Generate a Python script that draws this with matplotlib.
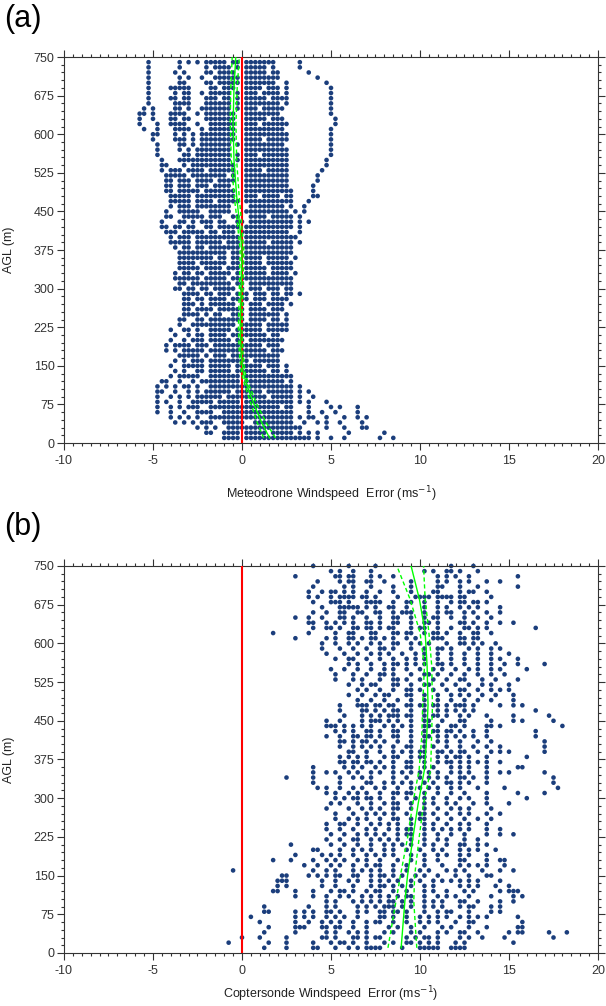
import matplotlib
matplotlib.use("Agg")
import matplotlib.pyplot as plt
from matplotlib.ticker import MultipleLocator

plt.rcParams['font.family'] = ['Liberation Sans', 'DejaVu Sans']
plt.rcParams['axes.unicode_minus'] = False

# (a) Meteodrone: one text row per 10 m level, 740 m first, 10 m last.
# Each group of 4 chars is one ms-1 starting at -6, one char per 0.25 ms-1 ('#' = a point)
md_levels = list(range(740, 0, -10))
md_rows = [
    "...# .... ..#. #.#. #### #.## .### #### .... .#.. .... .... .... .... ....",
    "...# .... ..#. .... #.## ##.# .### ##.# .... .#.. .... .... .... .... ....",
    "...# .... .#.# .... ##.# ###. .### ##.# #... ...# .... .... .... .... ....",
    "...# .... ..#. #..# ..## #### .### #### #... .... .#.. .... .... .... ....",
    "...# .... ..## .... ##.# #### .### #### ..#. .... ...# .... .... .... ....",
    "...# .... #### #... .##. ###. .### #.## #.#. .... .... #... .... .... ....",
    "...# .... .#.# #..# .### ##.# .### .### #.#. .... .... #... .... .... ....",
    "...# .... ##.# #... ###. ##.# .### ##.# ###. .... .... #... .... .... ....",
    "...# .... .### #... #### ##.# .### #### #.#. .... .... #... .... .... ....",
    "..#. #... .##. #..# #### ##.# .### .### ##.. .... .... #... .... .... ....",
    ".##. #... #### ..#. #### ###. .### #### #... .... .... #... .... .... ....",
    ".#.. #... ##.# #... #### ###. .### ##.# ##.. .... .... .#.. .... .... ....",
    ".#.. .#.. #### ..#. .### ###. .### .### ###. .... .... .#.. .... .... ....",
    "..#. .#.. .### #..# .### ###. .### #### ##.. .... .... #... .... .... ....",
    ".... ##.. .#.# .#.# #### ###. .### #### ###. .... .... #... .... .... ....",
    ".... #... .### .#.# #### ###. .### #.## ###. .... .... #... .... .... ....",
    ".... .#.. ..## .#.# #### ##.# .### #### ##.. .... .... #... .... .... ....",
    ".... .#.. ..#. #.## #### ##.. .### #### ###. .... .... #... .... .... ....",
    ".... .#.. ...# #.## #### ##.# .### .### ###. .... .... #... .... .... ....",
    ".... ..#. ..## #### #### ##.# .### #### ###. .... ...# .... .... .... ....",
    ".... ..## ...# .### #### ###. .### #### ###. .... ...# .... .... .... ....",
    ".... ..#. ###. #### .### ###. .### #.## ###. .... ..#. .... .... .... ....",
    ".... ...# #### .### #### #.#. .### #### ###. .... .#.. .... .... .... ....",
    ".... ...# #.## #.## ##.# ###. .### #### ###. .... .#.. .... .... .... ....",
    ".... ...# #.## #.## #.## ##.. .### #### ###. .... #... .... .... .... ....",
    ".... ...# #.## ###. #### ###. .### #### #### .... #... .... .... .... ....",
    ".... .... #### #.## #### ###. .### .### #.## .... ##.. .... .... .... ....",
    ".... .... #### #.## ##.# #### .### #### #### ...# .... .... .... .... ....",
    ".... .... #.## #.## #### ##.. ..## #### ##.# ..#. .... .... .... .... ....",
    ".... ...# ..## ###. .### ##.. .### #### ###. #.#. .... .... .... .... ....",
    ".... ...# #..# #### .### ..## ..## ##.# #### .#.. .... .... .... .... ....",
    ".... ..#. ..## .#.# ##.# #..# #.## #### #### .#.# .... .... .... .... ....",
    ".... ..## .##. ##.. ##.# #### .### #### #### .#.. .... .... .... .... ....",
    ".... ...# ##.# #### .##. ###. #### #### ###. .#.. .... .... .... .... ....",
    ".... .... #.## #.## #### #### .### #### #### #... .... .... .... .... ....",
    ".... .... #### #.## #### .### .### ##.# #### .#.. .... .... .... .... ....",
    ".... .... .#.# #.## .### #### .### #### #### .... .... .... .... .... ....",
    ".... .... ..## #### #### #.## .### #### #### .... .... .... .... .... ....",
    ".... .... ..## #### ##.# #.## .### #.## ###. #... .... .... .... .... ....",
    ".... .... ..## ##.# #### #.## .### #.## #### .... .... .... .... .... ....",
    ".... .... ..## ###. #### .### .### ##.# #### .... .... .... .... .... ....",
    ".... .... .#.# #.## .### ##.# .### ##.# ###. #... .... .... .... .... ....",
    ".... .... .### ###. #### #.## #### #### #### .... .... .... .... .... ....",
    ".... .... ..## .### #### ##.# #.## #### #### .... .... .... .... .... ....",
    ".... .... .##. ##.# #.## ###. #.## #.## #.## .... .... .... .... .... ....",
    ".... .... ...# ###. ##.# ##.# ##.# ##.# #.## .#.. .... .... .... .... ....",
    ".... .... ...# #.## .### #.## ##.# ##.# ###. .... .... .... .... .... ....",
    ".... .... ...# ##.# .### ###. #.## #.## ##.# .... .... .... .... .... ....",
    ".... .... ...# #.## ##.# #### #.## ##.# ##.. .... .... .... .... .... ....",
    ".... .... ...# ###. #.## ..## #.## #### #.#. .... .... .... .... .... ....",
    ".... .... ..## ..## .### #### #.## ##.# #.#. .... .... .... .... .... ....",
    ".... .... ..#. .### #### ###. #### #.## ###. .... .... .... .... .... ....",
    ".... .... #..# #.#. .### ##.# #### #.## ###. .... .... .... .... .... ....",
    ".... .... .#.. #.## .### #.## #### ##.# #... .... .... .... .... .... ....",
    ".... .... #..# .### .### ##.# #.## #### ##.. .... .... .... .... .... ....",
    ".... ...# .### #.## #.## #### #### #.## #... .... .... .... .... .... ....",
    ".... ...# .#.# #### .### #### #### ##.# ##.. .... .... .... .... .... ....",
    ".... .... ..## ###. #.## #.## #### #### #... .... .... .... .... .... ....",
    ".... .... .#.# .### .### #### ##.# #### #... .... .... .... .... .... ....",
    ".... .... #..# #### .### ##.# #### #.## #.#. .... .... .... .... .... ....",
    ".... .... .#.# ..## .### ##.# #### ##.# #.#. .... .... .... .... .... ....",
    ".... .... #.## ###. .### #### .### #### #### .... .... .... .... .... ....",
    ".... ..## ..#. .#.# #### #### .### #### ##.# .... .... .... .... .... ....",
    ".... .#.# .#.# #.#. .### #### #### #### #### .#.. .... .... .... .... ....",
    ".... .##. .#.. #.#. #### ##.# #### #.## #### .#.# .... .... .... .... ....",
    ".... .#.. #.#. #.## #### .### #### ##.# #### .#.. #... .... .... .... ....",
    ".... .#.# ..#. .### ##.# #### .### #### #### .#.# ...# .... .... .... ....",
    ".... .#.. #.#. ###. .### #### #### #### #.## ...# .... #.#. ..#. .... ....",
    ".... .#.. #..# ..## ##.. #### #### #### #### ...# ..#. .#.. ..#. .... ....",
    ".... .... #.#. #.#. .### #### #### #### #### .#.# #..# ...# ..#. #... ....",
    ".... .... .#.# .#.# ##.. #### #..# #### #### ..#. .#.# ..#. ...# .... ....",
    ".... .... .... ..#. #.#. .### #### #### #### ##.. ...# ...# ...# #... ....",
    ".... .... .... .... ##.. #### .### ##.# #### .#.# .#.. .... #... .... #...",
    ".... .... .... .... .... #### .### #### #### #### .#.. #..# .... ...# ..#.",
]

# (b) Coptersonde: errors (ms-1) at each level
cs_rows = [
    (750, [4.0, 6.0, 7.5, 11.75, 13.0]),
    (740, [5.0, 5.5, 6.25, 7.25, 10.25, 10.75, 11.5, 11.75, 12.25, 13.25]),
    (730, [3.0, 5.25, 5.5, 6.0, 6.25, 7.25, 7.75, 8.5, 11.0, 11.5, 12.0, 12.75, 15.5]),
    (720, [4.25, 5.5, 6.0, 6.25, 7.0, 7.25, 8.0, 9.5, 11.0, 11.5, 12.25, 12.75, 13.75, 14.5]),
    (710, [4.0, 5.75, 6.25, 7.25, 8.5, 9.5, 11.0, 11.25, 12.25, 13.25, 15.5]),
    (700, [3.75, 4.5, 5.0, 5.25, 5.75, 6.25, 7.0, 7.75, 8.5, 9.5, 10.75, 11.0, 12.25, 12.75, 13.0, 13.75]),
    (690, [3.75, 4.25, 5.0, 5.5, 5.75, 6.0, 6.25, 6.75, 7.0, 7.5, 8.75, 9.75, 10.0, 10.25, 10.5,
           11.0, 11.25, 11.5, 11.75, 12.25, 12.5, 14.0]),
    (680, [4.0, 5.0, 5.25, 5.5, 6.0, 7.0, 7.25, 7.5, 7.75, 8.5, 9.25, 9.5, 10.25, 11.0, 11.75,
           12.25, 12.5, 13.0, 13.25, 13.75]),
    (670, [4.5, 5.5, 5.75, 6.0, 6.25, 6.5, 7.0, 7.5, 8.25, 8.5, 9.25, 10.25, 11.0, 11.5, 12.25,
           12.75, 13.25, 14.5]),
    (660, [4.0, 4.75, 5.5, 5.75, 6.5, 6.75, 7.5, 7.75, 8.5, 9.0, 9.25, 9.5, 10.25, 11.0, 11.5,
           11.75, 12.5, 13.0, 13.75, 14.5]),
    (650, [3.0, 3.75, 4.5, 5.5, 5.75, 6.25, 7.0, 7.75, 8.5, 8.75, 9.5, 10.25, 10.75, 11.0, 11.75,
           12.5, 13.25, 14.0]),
    (640, [3.75, 4.0, 4.75, 5.25, 5.75, 6.25, 7.0, 7.25, 7.75, 8.5, 8.75, 9.5, 10.25, 10.5, 11.0,
           12.25, 12.5, 13.0, 13.75, 14.5, 15.25]),
    (630, [4.0, 4.75, 5.0, 5.5, 6.25, 6.5, 7.0, 7.25, 7.75, 8.25, 8.5, 9.5, 10.0, 10.25, 11.0,
           11.75, 12.5, 12.75, 13.25, 13.75, 16.5]),
    (620, [1.75, 3.75, 5.25, 6.0, 6.25, 7.25, 7.5, 8.5, 8.75, 9.25, 9.5, 10.25, 10.75, 11.0, 11.5,
           12.25, 13.0, 13.25, 14.0]),
    (610, [3.0, 4.75, 5.25, 6.0, 6.25, 6.75, 7.25, 7.5, 8.0, 8.5, 9.25, 9.75, 10.75, 11.0, 11.25,
           12.25, 12.5, 13.0, 13.25]),
    (600, [4.5, 5.25, 6.0, 6.5, 7.25, 7.75, 8.5, 8.75, 9.5, 10.0, 10.5, 11.5, 12.25, 12.5, 13.0,
           13.5, 14.25]),
    (590, [4.5, 5.5, 6.25, 7.0, 7.75, 8.0, 8.5, 9.5, 10.25, 11.0, 11.25, 11.75, 12.75, 13.25, 14.0,
           14.5]),
    (580, [4.75, 5.75, 6.5, 7.25, 7.75, 8.25, 9.0, 9.75, 10.25, 11.0, 11.75, 12.5, 13.25, 14.0, 15.0]),
    (570, [5.25, 6.0, 6.25, 7.0, 7.75, 8.5, 9.25, 9.75, 10.25, 11.0, 11.75, 12.5, 13.25, 14.0, 14.5,
           15.5]),
    (560, [6.0, 6.5, 7.25, 8.0, 8.5, 8.75, 9.25, 9.75, 10.25, 11.0, 11.25, 11.75, 12.5, 13.25, 14.0,
           14.75, 15.5, 17.0]),
    (550, [5.0, 5.75, 6.5, 7.25, 8.0, 8.5, 9.25, 10.0, 10.75, 11.25, 12.0, 12.75, 13.25, 14.0, 14.5,
           16.0]),
    (540, [5.25, 6.25, 7.0, 7.75, 8.0, 8.5, 9.5, 10.25, 10.5, 11.0, 11.75, 12.5, 13.25, 14.0, 14.75]),
    (530, [5.25, 6.25, 6.75, 7.75, 8.5, 8.75, 9.25, 10.0, 10.75, 11.5, 12.25, 12.5, 13.5, 14.25, 15.5]),
    (520, [6.0, 6.75, 7.25, 7.5, 8.5, 8.75, 9.5, 10.25, 10.5, 11.25, 12.0, 12.75, 13.5, 14.0, 15.0]),
    (510, [6.5, 7.0, 7.75, 8.5, 9.25, 9.5, 10.0, 10.75, 11.5, 12.25, 12.5, 13.25, 14.0, 14.5, 15.0]),
    (500, [6.0, 6.75, 7.5, 8.0, 8.25, 9.25, 9.5, 10.25, 11.0, 11.75, 12.25, 12.75, 13.5, 14.25, 15.25]),
    (490, [6.5, 7.25, 8.0, 8.75, 9.5, 10.25, 11.0, 11.75, 12.5, 13.25, 14.0, 15.25]),
    (480, [5.5, 6.5, 6.75, 7.0, 7.5, 7.75, 8.25, 8.5, 9.25, 9.5, 10.0, 10.25, 10.75, 11.0, 11.5,
           12.0, 12.25, 12.5, 13.0, 14.5, 15.25, 15.75]),
    (470, [5.5, 6.75, 7.0, 7.5, 8.0, 8.5, 8.75, 9.5, 10.25, 11.0, 11.5, 12.0, 12.5, 13.0, 16.5]),
    (460, [5.75, 6.75, 7.25, 7.75, 8.25, 8.5, 8.75, 9.25, 9.5, 10.25, 10.75, 11.0, 11.5, 12.25, 12.75,
           13.75, 15.25, 17.25]),
    (450, [4.75, 5.5, 6.75, 7.25, 7.5, 7.75, 8.25, 8.75, 9.5, 10.25, 10.5, 11.25, 12.25, 12.5, 14.0,
           15.25, 15.75, 17.5]),
    (440, [4.75, 5.0, 5.25, 5.75, 6.25, 6.75, 7.25, 8.0, 8.5, 9.0, 9.5, 10.25, 10.5, 11.0, 11.75,
           12.0, 12.5, 13.75, 14.0, 14.5, 18.0]),
    (430, [5.25, 5.75, 6.25, 7.0, 7.25, 7.75, 8.5, 8.75, 9.5, 10.25, 10.75, 11.0, 11.5, 11.75, 12.25,
           13.0, 13.75, 16.5]),
    (420, [4.75, 5.5, 6.25, 6.5, 7.0, 7.25, 7.75, 8.5, 8.75, 9.5, 10.25, 10.5, 11.0, 11.5, 12.0,
           12.5, 13.0, 13.75, 16.5]),
    (410, [5.5, 5.75, 6.25, 6.75, 7.0, 7.5, 8.0, 8.75, 9.5, 10.25, 11.0, 11.5, 12.25, 13.25, 14.0,
           17.0]),
    (400, [5.5, 6.25, 6.75, 7.25, 7.75, 8.5, 9.25, 9.5, 10.25, 10.75, 11.5, 12.25, 13.0, 13.75, 14.5,
           17.0]),
    (390, [6.0, 6.25, 7.0, 7.75, 8.5, 9.0, 9.5, 10.0, 10.25, 11.0, 11.25, 11.75, 12.25, 12.5, 13.25,
           14.0, 14.5, 15.0, 17.0]),
    (380, [5.5, 6.0, 6.5, 7.0, 8.0, 8.5, 8.75, 9.5, 10.0, 10.25, 11.0, 11.5, 12.0, 12.25, 12.75,
           13.75, 16.0]),
    (370, [5.5, 5.75, 6.25, 6.5, 7.0, 7.25, 7.75, 8.5, 9.25, 9.5, 10.25, 11.0, 11.5, 11.75, 12.25,
           12.75, 13.25, 13.75, 14.5]),
    (360, [4.0, 5.75, 6.25, 6.75, 7.5, 8.0, 8.5, 9.25, 9.5, 10.25, 10.75, 11.75, 12.25, 12.75, 13.75,
           15.5, 15.75]),
    (350, [4.0, 4.75, 5.25, 6.0, 6.5, 7.25, 7.75, 8.5, 9.0, 9.5, 10.0, 10.5, 11.0, 11.75, 12.25,
           12.75, 13.75, 14.5, 15.0, 17.0]),
    (340, [2.5, 4.0, 5.5, 6.25, 6.75, 7.25, 8.5, 9.25, 10.0, 10.5, 11.0, 11.5, 12.25, 12.5, 13.0,
           13.75, 17.5]),
    (330, [4.0, 5.5, 7.0, 7.25, 8.0, 8.5, 9.0, 9.5, 10.25, 10.75, 11.5, 11.75, 12.25, 12.75, 13.75,
           17.5]),
    (320, [4.25, 4.75, 5.5, 6.25, 6.75, 7.5, 8.0, 8.75, 9.5, 10.0, 10.5, 11.0, 11.75, 12.25, 13.25,
           14.75, 17.75]),
    (310, [4.75, 5.25, 6.0, 6.5, 7.0, 7.75, 8.5, 8.75, 9.25, 9.5, 10.25, 11.0, 11.75, 12.5, 13.75,
           15.5, 17.0]),
    (300, [5.25, 5.75, 6.25, 6.5, 7.0, 7.25, 7.75, 8.5, 9.25, 9.75, 10.25, 10.75, 11.5, 12.25, 12.75,
           13.75, 16.0]),
    (290, [5.0, 5.5, 6.5, 7.25, 8.0, 8.5, 8.75, 9.5, 10.25, 10.75, 11.5, 12.0, 13.0, 13.75, 15.0]),
    (280, [4.75, 6.0, 6.75, 7.25, 7.75, 8.5, 8.75, 9.5, 10.25, 11.0, 11.75, 12.25, 12.75, 14.0]),
    (270, [5.25, 6.25, 7.0, 7.5, 8.0, 8.5, 9.25, 10.0, 10.25, 10.75, 11.5, 12.25, 12.75, 13.75, 14.5]),
    (260, [5.25, 6.0, 6.5, 7.0, 7.75, 8.5, 8.75, 9.5, 10.0, 10.25, 11.0, 11.75, 12.5, 13.25, 14.0]),
    (250, [4.75, 5.5, 5.75, 6.5, 7.25, 7.75, 8.25, 8.75, 9.5, 10.25, 10.75, 11.5, 12.25, 12.75, 13.75]),
    (240, [4.75, 5.5, 6.25, 7.0, 7.5, 8.25, 8.75, 9.25, 9.5, 10.25, 10.75, 11.25, 11.75, 12.25, 12.75,
           13.75, 14.5]),
    (230, [5.0, 5.75, 6.5, 7.0, 7.5, 8.0, 8.75, 9.25, 9.5, 10.25, 11.0, 11.75, 12.5, 13.75, 14.5,
           15.25]),
    (220, [4.75, 5.5, 6.25, 6.5, 7.25, 7.75, 8.25, 8.75, 9.5, 10.25, 11.0, 11.5, 12.5, 13.25]),
    (210, [2.75, 5.0, 5.75, 6.5, 7.25, 8.0, 8.5, 9.0, 9.5, 10.25, 10.75, 11.5, 12.25, 12.5, 13.25,
           13.75]),
    (200, [4.0, 4.25, 5.5, 6.25, 6.75, 7.25, 8.0, 8.5, 9.25, 10.0, 10.75, 11.25, 12.25, 12.75, 13.25,
           14.25]),
    (190, [3.0, 4.5, 5.0, 5.5, 6.25, 7.0, 7.5, 8.0, 8.5, 9.5, 10.25, 11.0, 11.5, 12.25, 12.75, 13.75]),
    (180, [1.75, 2.75, 4.0, 4.75, 5.25, 5.75, 6.5, 7.0, 7.75, 8.75, 9.5, 10.25, 11.0, 12.25, 12.5,
           13.75, 14.5, 14.75]),
    (170, [3.5, 4.25, 5.0, 5.5, 6.25, 7.0, 7.5, 7.75, 8.5, 9.25, 10.25, 11.25, 12.25, 12.75, 13.25,
           13.75, 14.75]),
    (160, [-0.5, 4.0, 4.75, 5.25, 6.25, 6.75, 7.25, 7.75, 8.5, 9.25, 10.0, 10.5, 11.5, 12.0, 12.5,
           13.5, 14.5, 15.25]),
    (150, [2.25, 2.5, 3.75, 4.25, 4.75, 5.25, 5.5, 6.25, 6.5, 7.25, 7.75, 8.0, 8.5, 9.0, 9.75, 10.25,
           11.0, 12.0, 12.75, 13.75, 14.0]),
    (140, [2.0, 2.25, 2.5, 4.5, 5.25, 6.0, 6.5, 7.25, 7.75, 8.25, 8.75, 9.5, 10.0, 10.75, 11.25,
           11.75, 12.25, 12.75, 13.25, 14.5]),
    (130, [2.0, 2.5, 4.5, 5.25, 6.25, 7.25, 7.75, 8.0, 8.5, 9.0, 9.5, 10.25, 10.75, 12.25, 12.75,
           13.25, 14.25, 15.0]),
    (120, [1.75, 2.0, 3.0, 4.0, 5.0, 5.5, 5.75, 6.25, 7.0, 7.5, 7.75, 8.5, 9.25, 10.25, 10.75, 11.5,
           12.5, 13.0, 14.5, 15.0, 15.25, 15.5]),
    (110, [3.0, 4.0, 4.75, 5.5, 6.0, 6.75, 7.25, 7.75, 8.25, 8.75, 9.25, 9.5, 10.25, 11.0, 11.5,
           12.0, 12.75, 14.0, 15.25, 15.75]),
    (100, [4.75, 5.25, 6.25, 6.75, 7.25, 7.75, 8.25, 8.5, 9.0, 9.5, 10.25, 10.75, 11.25, 12.25, 12.5,
           13.25, 14.5, 15.25]),
    (90, [1.25, 3.75, 4.75, 5.25, 6.5, 7.0, 7.5, 8.0, 8.25, 8.5, 9.0, 9.5, 10.25, 10.75, 11.25,
          12.25, 12.75, 13.0, 14.0, 14.5]),
    (80, [1.25, 1.5, 3.0, 3.5, 4.0, 4.75, 5.0, 5.5, 6.5, 7.0, 7.75, 8.0, 8.5, 8.75, 9.25, 10.25,
          11.0, 11.5, 11.75, 12.75, 14.0, 14.5]),
    (70, [0.5, 3.0, 3.5, 4.0, 4.75, 5.25, 5.75, 6.5, 7.75, 8.0, 8.5, 9.25, 10.0, 10.5, 11.0, 11.5,
          12.25, 12.75, 13.25, 13.75, 15.5]),
    (60, [1.0, 3.0, 3.75, 4.5, 5.0, 5.5, 6.25, 7.0, 7.5, 7.75, 8.5, 9.25, 10.0, 10.5, 11.0, 12.0,
          12.75, 13.0, 15.75]),
    (50, [1.5, 3.0, 3.25, 3.5, 4.5, 4.75, 5.25, 5.5, 6.25, 7.0, 8.25, 8.75, 9.5, 10.25, 11.25, 11.75,
          12.75, 13.75, 15.5, 15.75]),
    (40, [1.25, 3.0, 4.75, 5.25, 6.0, 6.5, 7.0, 8.0, 8.5, 9.5, 10.0, 11.0, 11.5, 12.25, 12.5, 13.25,
          15.0, 15.5, 15.75, 17.25, 18.25]),
    (30, [0.0, 1.0, 2.5, 4.5, 4.75, 5.25, 6.25, 6.5, 7.0, 7.5, 7.75, 9.25, 9.75, 10.25, 10.5, 11.0,
          12.25, 12.75, 13.5, 14.75, 17.5]),
    (20, [-0.75, 1.5, 2.5, 4.0, 5.0, 5.5, 5.75, 6.25, 7.0, 8.0, 8.5, 9.25, 9.5, 10.0, 10.5, 11.0,
          12.0, 12.5, 15.25]),
    (10, [1.25, 2.5, 4.0, 4.25, 5.25, 6.0, 6.5, 7.0, 7.25, 7.5, 7.75, 9.0, 10.0, 10.25, 10.5, 10.75,
          11.0, 11.75, 12.0, 12.25, 12.5]),
]

# green fit line and its bounds
md_fit_h = [10, 40, 75, 110, 135, 175, 225, 300, 375, 430, 480, 550, 620, 690, 750]
md_fit = [1.55, 1.1, 0.68, 0.3, 0.08, -0.05, -0.1, -0.05, 0.0, -0.15, -0.3, -0.45, -0.5, -0.45, -0.35]
md_lo = [1.22, 0.85, 0.52, 0.18, -0.02, -0.15, -0.2, -0.15, -0.1, -0.27, -0.44, -0.6, -0.66, -0.63, -0.55]
md_hi = [1.88, 1.35, 0.84, 0.42, 0.18, 0.05, 0.0, 0.05, 0.1, -0.03, -0.16, -0.3, -0.34, -0.27, -0.15]

cs_fit_h = [10, 100, 150, 223, 290, 355, 420, 480, 556, 621, 685, 750]
cs_fit = [8.94, 9.15, 9.3, 9.6, 9.9, 10.25, 10.38, 10.45, 10.4, 10.29, 9.97, 9.5]
cs_lo = [8.2, 8.65, 8.9, 9.3, 9.6, 9.95, 10.1, 10.15, 10.25, 10.0, 9.45, 8.7]
cs_hi = [9.82, 9.65, 9.7, 9.95, 10.2, 10.6, 10.65, 10.7, 10.66, 10.5, 10.29, 10.2]

# unpack the text rows of (a)
md_x, md_y = [], []
for lev, row in zip(md_levels, md_rows):
    for i, c in enumerate(row.replace(" ", "")):
        if c == "#":
            md_x.append(-6 + 0.25 * i)
            md_y.append(lev)

cs_x, cs_y = [], []
for lev, vals in cs_rows:
    cs_x += vals
    cs_y += [lev] * len(vals)

dot_col = '#1b3e7c'
green = '#00ff00'

fig = plt.figure(figsize=(6.06, 10.06), dpi=100)
ax1 = fig.add_axes([0.1056, 0.5596, 0.8812, 0.3837])
ax2 = fig.add_axes([0.1056, 0.0527, 0.8812, 0.3847])

panels = [
    (ax1, md_x, md_y, md_fit_h, md_fit, md_lo, md_hi,
     'Meteodrone Windspeed  Error (ms$^{-1}$)', -0.108),
    (ax2, cs_x, cs_y, cs_fit_h, cs_fit, cs_lo, cs_hi,
     'Coptersonde Windspeed  Error (ms$^{-1}$)', -0.08),
]
for ax, x, y, fh, fit, lo, hi, xlab, lab_y in panels:
    ax.scatter(x, y, s=11, color=dot_col, edgecolors='none', zorder=2, clip_on=False)
    ax.axvline(0, color='red', lw=1.5, zorder=3)
    ax.plot(fit, fh, color=green, lw=1.0, zorder=4)
    ax.plot(lo, fh, color=green, lw=1.0, ls=(0, (3, 2)), zorder=4)
    ax.plot(hi, fh, color=green, lw=1.0, ls=(0, (3, 2)), zorder=4)

    ax.set_xlim(-10, 20)
    ax.set_ylim(0, 750)
    ax.xaxis.set_major_locator(MultipleLocator(5))
    ax.xaxis.set_minor_locator(MultipleLocator(0.5))
    ax.yaxis.set_major_locator(MultipleLocator(75))
    ax.yaxis.set_minor_locator(MultipleLocator(15))
    ax.tick_params(which='both', direction='out', top=True, right=True,
                   width=0.8, colors='#333333', labelsize=9)
    ax.tick_params(which='major', length=4.8)
    ax.tick_params(which='minor', length=2.4)
    ax.tick_params(axis='x', pad=4)
    ax.tick_params(axis='y', pad=2)
    for s in ax.spines.values():
        s.set_linewidth(0.8)
        s.set_color('#333333')

    ax.set_xlabel(xlab, fontsize=9, color='#222222')
    ax.xaxis.set_label_coords(0.5, lab_y)
    ax.set_ylabel('AGL (m)', fontsize=9, color='#222222')
    ax.yaxis.set_label_coords(-0.092, 0.5)

fig.text(0.006, 0.996, '(a)', fontsize=22, va='top', ha='left')
fig.text(0.006, 0.491, '(b)', fontsize=22, va='top', ha='left')

fig.savefig('out.png', dpi=100)
